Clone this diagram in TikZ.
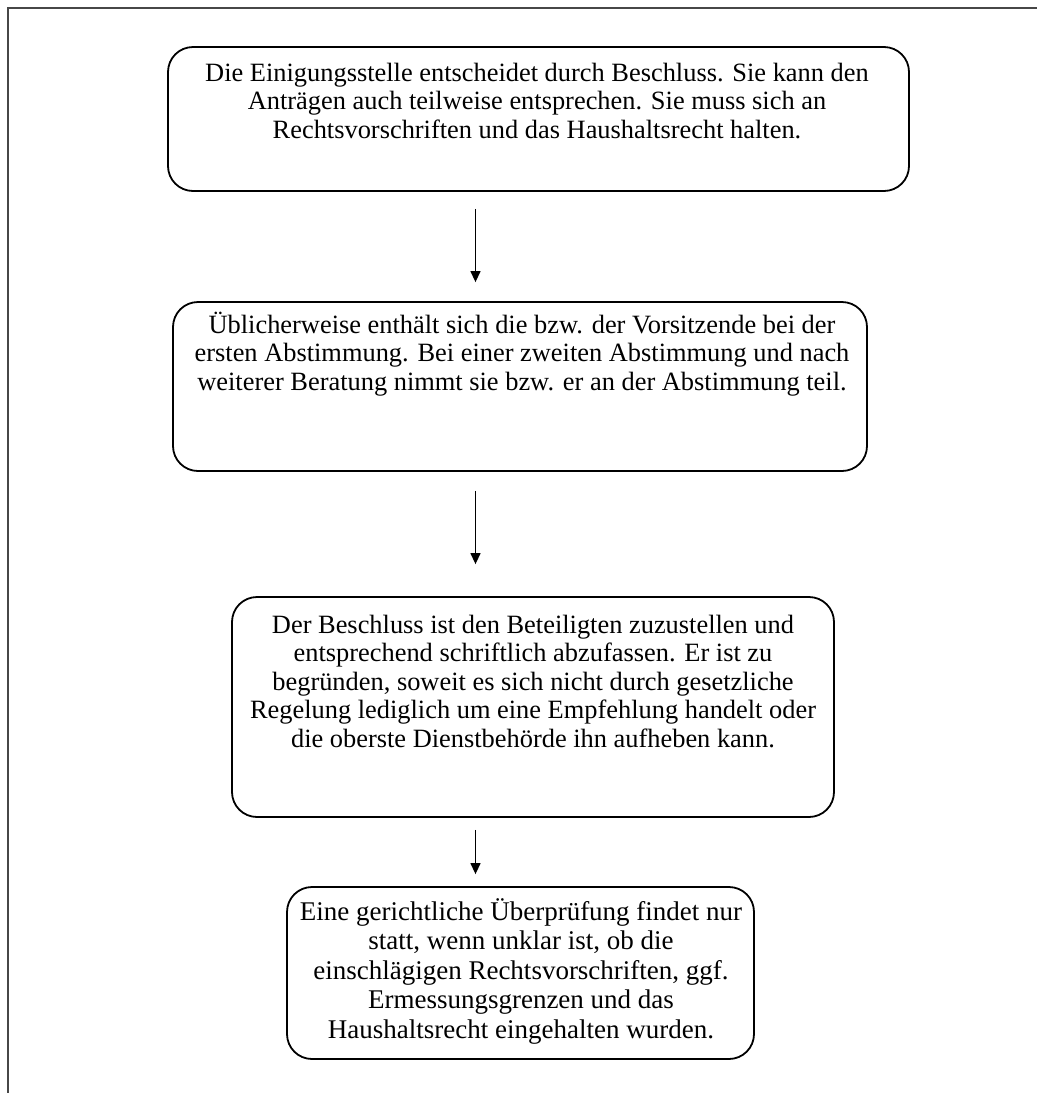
\documentclass[tikz,border=0pt]{standalone}
\usepackage{fontspec}
\setmainfont{Liberation Serif}
\usetikzlibrary{arrows.meta}
\begin{document}
\begin{tikzpicture}[x=1pt,y=-1pt,
  box/.style={draw=black, line width=1.8pt, rounded corners=25pt, inner sep=0pt},
  txt/.style={anchor=north, inner sep=0pt, align=center, font=\fontsize{26.4}{28.5}\selectfont},
  txtb/.style={txt, font=\fontsize{27}{29.5}\selectfont},
  flow/.style={line width=1.3pt, -{Triangle[width=10pt,length=11pt]}},
  frame/.style={draw=black!72, line width=1.5pt}]
\useasboundingbox (0,0) rectangle (1037,1093);
% frame (top and left edges)
\coordinate (fbl) at (8,1093);
\coordinate (ftl) at (8,8);
\coordinate (ftr) at (1037,8);
\draw[frame] (fbl) -- (ftl) -- (ftr);
% boxes
\node[box, minimum width=741pt, minimum height=144pt] (b1) at (538.5,119) {};
\node[box, minimum width=694pt, minimum height=169pt] (b2) at (520,386.5) {};
\node[box, minimum width=602pt, minimum height=220pt] (b3) at (533,707) {};
\node[box, minimum width=467pt, minimum height=172pt] (b4) at (520.5,973) {};
% texts
\node[txt] (t1) at (537,57) {\rule{0pt}{24pt}Die Einigungsstelle entscheidet durch Beschluss. Sie kann den\\
Anträgen auch teilweise entsprechen. Sie muss sich an\\
Rechtsvorschriften und das Haushaltsrecht halten.};
\node[txt] (t2) at (522,309) {\rule{0pt}{24pt}Üblicherweise enthält sich die bzw. der Vorsitzende bei der\\
ersten Abstimmung. Bei einer zweiten Abstimmung und nach\\
weiterer Beratung nimmt sie bzw. er an der Abstimmung teil.};
\node[txt] (t3) at (533,609) {\rule{0pt}{24pt}Der Beschluss ist den Beteiligten zuzustellen und\\
entsprechend schriftlich abzufassen. Er ist zu\\
begründen, soweit es sich nicht durch gesetzliche\\
Regelung lediglich um eine Empfehlung handelt oder\\
die oberste Dienstbehörde ihn aufheben kann.};
\node[txtb] (t4) at (521,896) {\rule{0pt}{24pt}Eine gerichtliche Überprüfung findet nur\\
statt, wenn unklar ist, ob die\\
einschlägigen Rechtsvorschriften, ggf.\\
Ermessungsgrenzen und das\\
Haushaltsrecht eingehalten wurden.};
% connectors
\coordinate (ax) at (475.5,0);
\draw[flow, shorten <=17pt, shorten >=19pt] (b1.south -| ax) -- (b2.north -| ax);
\draw[flow, shorten <=19pt, shorten >=32pt] (b2.south -| ax) -- (b3.north -| ax);
\draw[flow, shorten <=12pt, shorten >=12pt] (b3.south -| ax) -- (b4.north -| ax);
\end{tikzpicture}
\end{document}
